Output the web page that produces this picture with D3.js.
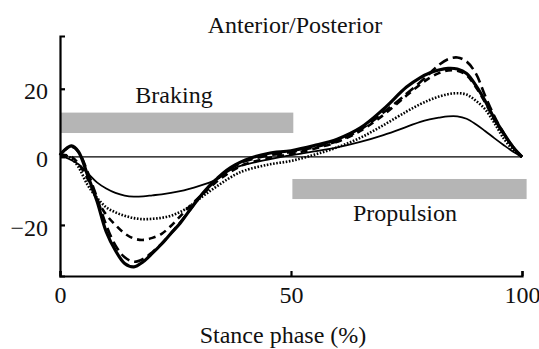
<!DOCTYPE html>
<html>
<head>
<meta charset="utf-8">
<script src="https://cdn.jsdelivr.net/npm/d3@7"></script>
<style>
  html, body { margin: 0; padding: 0; background: #fff; }
  svg { display: block; }
  text { font-family: "Liberation Serif", "Times New Roman", serif; fill: #111; }
</style>
</head>
<body>
<svg id="chart" width="539" height="349"></svg>
<script>
// ---- data ----
const stance = [0,1,2.5,4,6,8,10,12,14,16,18,20,22,24,26,28,30,32,34,36,38,40,45,50,55,60,65,70,75,78,80,82,84,86,88,90,92,94,96,98,100];
const thickSolid = [0.5,2,3.2,1.5,-5.5,-13,-22,-27.5,-31.3,-32.3,-30.8,-28.3,-25.6,-22.5,-19.5,-15.8,-12.2,-9,-6.4,-4,-2.3,-1,1.0,1.8,3.3,5.2,8.5,14,20.5,23.3,24.6,25.5,26,25.8,24.5,21,16.5,11.3,7,3,0];
const longDash   = [0.5,2,3,1.5,-4.5,-12,-20,-26,-29.5,-30.8,-30,-28,-25.5,-22.5,-19.3,-15.8,-12.2,-9.2,-6.6,-4.3,-2.6,-1.3,0.4,1.4,2.8,4.6,8,13,18.5,22,24.5,27,28.7,29.2,28,24.5,18,12,7,3,0];
const midDash    = [0.3,0.5,0,-2,-6.5,-12.5,-17,-20,-22.5,-24,-24.4,-23.8,-22.6,-20.3,-17.5,-14.6,-12,-9.6,-7.2,-5.2,-3.5,-2.2,-0.4,0.8,2.4,4.4,7.6,12.3,18,21.3,23.2,24.6,25.4,25.3,24,20.5,16,11,6.8,2.9,0];
const dotted     = [0.5,0.5,-0.5,-3,-8.3,-12,-14.8,-16.3,-17.3,-18,-18.3,-18.2,-17.9,-17.3,-16.2,-14.6,-12.5,-10.5,-8.6,-6.8,-5.2,-4,-2.3,-1.2,0.6,2.8,5.6,9.3,13.3,15.5,16.7,17.7,18.4,18.7,18.3,16.5,14,10,5.5,2.2,0];
const thinSolid  = [0.8,0,-1,-2.2,-4.8,-7.5,-9.3,-10.6,-11.4,-11.7,-11.6,-11.3,-11,-10.6,-10.1,-9.4,-8.6,-7.7,-6.6,-4.6,-3.2,-2.3,-0.8,0.5,1.6,2.8,4.4,6.4,8.8,10.3,11,11.5,11.9,11.9,11.2,9.6,7.6,5.5,3.5,1.6,0];
const seriesNames = ["thickSolid","longDash","midDash","dotted","thinSolid"];
const seriesValues = [thickSolid,longDash,midDash,dotted,thinSolid];
const xTicks = [0,50,100];
const yTicks = [-20,0,20];
const phaseLabels = ["Braking","Propulsion"];
const phaseX = [[0,50.5],[50.3,101]];
const phaseY = [[7,13],[-12.4,-6.5]];
const titleText = "Anterior/Posterior";
const xLabel = "Stance phase (%)";

// ---- drawing ----
const svg = d3.select("#chart");
const x = d3.scaleLinear().domain([0,100]).range([60,522]);
const y = d3.scaleLinear().domain([-35,35.5]).range([276,36]);

// phase bars
phaseX.forEach((px,i)=>{
  svg.append("rect")
    .attr("x", x(px[0])).attr("width", x(px[1]) - x(px[0]))
    .attr("y", y(phaseY[i][1])).attr("height", y(phaseY[i][0]) - y(phaseY[i][1]))
    .attr("fill", "#b5b5b5");
});

// zero line
svg.append("line")
  .attr("x1", x(0)).attr("x2", x(100))
  .attr("y1", y(0)).attr("y2", y(0))
  .attr("stroke", "#000").attr("stroke-width", 1.2);

// series
const styles = {
  thickSolid: {w: 3.2, dash: null},
  longDash:   {w: 2.6, dash: "10,5"},
  midDash:    {w: 2.6, dash: "7,5"},
  dotted:     {w: 2.6, dash: "1.6,1.6"},
  thinSolid:  {w: 1.8, dash: null}
};
const line = d3.line().x(d=>x(d[0])).y(d=>y(d[1])).curve(d3.curveCatmullRom.alpha(0.5));
seriesNames.forEach((name,i)=>{
  const pts = stance.map((s,j)=>[s, seriesValues[i][j]]);
  const st = styles[name];
  const p = svg.append("path").datum(pts)
    .attr("d", line).attr("fill","none").attr("stroke","#000")
    .attr("stroke-width", st.w).attr("stroke-linejoin","round");
  if (st.dash) p.attr("stroke-dasharray", st.dash);
});

// axes
const yAxis = d3.axisLeft(y).tickValues(yTicks).tickSize(-5).tickSizeOuter(-5).tickPadding(12);
const xAxis = d3.axisBottom(x).tickValues(xTicks).tickSize(-5).tickSizeOuter(-5).tickPadding(10);
const gy = svg.append("g").attr("transform", `translate(${x(0)},0)`).call(yAxis);
const gx = svg.append("g").attr("transform", `translate(0,${y(-35)})`).call(xAxis);
[gx, gy].forEach(g=>{
  g.attr("font-family", null);
  g.select(".domain").attr("stroke-width", 2.2);
  g.selectAll(".tick line").attr("stroke-width", 2.2);
  g.selectAll("text").attr("font-size", 24).attr("fill","#111");
});
gy.selectAll("text").attr("dy", "0.42em");

// texts
svg.append("text").attr("x", 295).attr("y", 33).attr("text-anchor","middle").attr("font-size",24).text(titleText);
svg.append("text").attr("x", 174).attr("y", 103).attr("text-anchor","middle").attr("font-size",24).text(phaseLabels[0]);
svg.append("text").attr("x", 405).attr("y", 221).attr("text-anchor","middle").attr("font-size",24).text(phaseLabels[1]);
svg.append("text").attr("x", 283).attr("y", 343).attr("text-anchor","middle").attr("font-size",24).text(xLabel);
</script>
</body>
</html>
